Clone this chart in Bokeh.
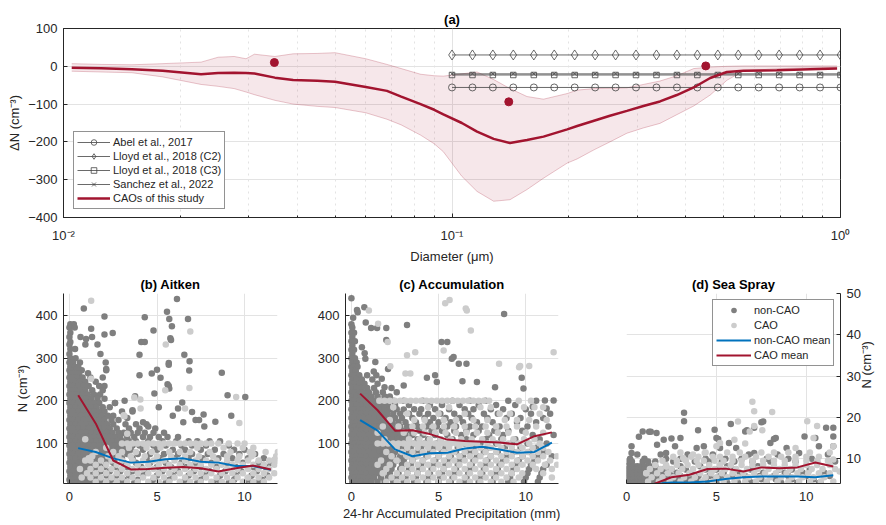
import math
from bokeh.plotting import figure
from bokeh.models import Range1d, FixedTicker, Legend, LegendItem, Label
from bokeh.layouts import column, row
from bokeh.embed import file_html
from bokeh.resources import INLINE

FONT = "Liberation Sans"
RED = "#A2142F"
BLUE = "#0072BD"
DARK = "#7F7F7F"
LIGHT = "#CCCCCC"
AX = "#262626"
GRID = "#E3E3E3"
LIT = "#444444"

# ---------------- panel (a) data ----------------
diam = [0.0105, 0.0125, 0.015, 0.018, 0.0226, 0.025, 0.0275, 0.0295, 0.031, 0.035,
        0.039, 0.045, 0.05, 0.06, 0.068, 0.074, 0.083, 0.09, 0.095, 0.106,
        0.116, 0.128, 0.141, 0.156, 0.172, 0.198, 0.21, 0.232, 0.255, 0.282,
        0.311, 0.343, 0.379, 0.419, 0.462, 0.51, 0.563, 0.686, 0.836, 0.98]
dn_mean = [-4, -5, -8, -12, -21, -17.5, -17, -18, -19, -30,
           -36, -38, -41, -55, -65, -80, -100, -115, -127, -150,
           -173, -192, -203, -195, -186, -167, -158, -144, -131, -118,
           -105, -93, -76, -56, -31, -15, -12, -10.5, -8, -6]
dn_upper = [7, 5, 4, 7, 11, 24, 26, 20, 32, 26,
            33, 34, 36, 20, 5, -6, -21, -25, -26, -20,
            -15, -35, -59, -80, -87, -72, -63, -59, -58, -57,
            -48, -39, -25, -6, -2, 0, 1, 1, 1, 1]
dn_lower = [-13, -15, -17, -28, -48, -53, -59, -68, -75, -90,
            -100, -106, -109, -123, -140, -155, -182, -205, -226, -291,
            -331, -357, -353, -326, -296, -256, -245, -221, -200, -177,
            -163, -151, -128, -105, -76, -37, -12, -6.5, -4, -3]
dot_d = [0.0349, 0.140, 0.45]
dot_dn = [10, -94, 1]
lit_d = [0.1, 0.1129, 0.1274, 0.1438, 0.1624, 0.1833, 0.2069, 0.2336, 0.2637, 0.2976,
         0.336, 0.3793, 0.4281, 0.4833, 0.5456, 0.6158, 0.6952, 0.7848, 0.8859, 1.0]
abel_dn = [-56] * 20
lloyd_c2_dn = [30] * 20
lloyd_c3_dn = [-23] * 20
sanchez_dn = [-20] * 20

# ---------------- panels (b)-(d) means ----------------
bins = [0.5, 1.5, 2.5, 3.5, 4.5, 5.5, 6.5, 7.5, 8.5, 9.5, 10.5, 11.5]
ait_non = [89, 80, 65, 55, 57, 63, 65, 57, 55, 47, 47, 38]
ait_cao = [213, 147, 60, 39, 40, 43, 45, 42, 34, 42, 48, 39]
acc_non = [155, 130, 86, 70, 77, 78, 88, 92, 86, 78, 80, 102]
acc_cao = [217, 178, 130, 131, 122, 109, 106, 104, 102, 98, 117, 126]
bins_ss = [1.5, 2.5, 3.5, 4.5, 5.5, 6.5, 7.5, 8.5, 9.5, 10.5, 11.5]
ss_non = [3.85, 4.25, 4.25, 4.5, 5.1, 5.5, 5.7, 5.7, 5.7, 5.5, 6.0]
ss_cao = [3.85, 5.5, 6.1, 7.5, 7.6, 6.9, 7.9, 7.7, 7.9, 9.1, 8.1]

# ---------------- scatter samples (rows "y: x x x", extras "x,y") ----------------
ait_non_rows = """
380: 0.05 0.25
372: 0.0 0.3
360: 0.05
350: 0.0 0.63 1.29
345: 0.95
338: 0.05
332: 0.0 0.91 1.6
322: 0.32 0.05
310: 0.0 1.77
300: 0.05 0.35
290: 0.0 0.2 0.6 2.07
280: 0.05 0.3 0.5
272: 0.0 0.15 0.4 0.7 2.1
265: 0.05 0.3 0.55 1.06
255: 0.0 0.2 0.45 0.75 1.2 1.9
245: 0.05 0.35 0.6 0.9 1.5
235: 0.0 0.2 0.5 0.8 1.1 1.7 2.0
225: 0.05 0.3 0.6 0.9 1.3 1.9
215: 0.0 0.2 0.45 0.75 1.05 1.4 1.75
205: 0.05 0.35 0.65 0.95 1.25 1.6 2.0
195: 0.0 0.2 0.5 0.8 1.1 1.4 1.7 2.6
185: 0.05 0.35 0.65 0.95 1.25 1.55 1.9 2.3
175: 0.0 0.2 0.5 0.8 1.1 1.4 1.7 2.0 3.0 3.6
165: 0.05 0.35 0.65 0.95 1.25 1.55 1.85 2.2 2.5
155: 0.0 0.2 0.5 0.8 1.1 1.4 1.7 2.0 2.4 2.8
145: 0.05 0.35 0.65 0.95 1.25 1.55 1.85 2.15 2.5 3.2 3.8 4.4
135: 0.0 0.2 0.5 0.8 1.1 1.4 1.7 2.0 2.3 2.7 3.4 4.0 4.9
125: 0.05 0.35 0.65 0.95 1.25 1.55 1.85 2.15 2.45 2.8 3.1 3.5 3.9 4.3 4.8 5.4
115: 0.0 0.2 0.5 0.8 1.1 1.4 1.7 2.0 2.3 2.6 2.9 3.3 3.7 4.2 4.6 5.1 5.6 6.2
105: 0.05 0.35 0.65 0.95 1.25 1.55 1.85 2.15 2.45 2.75 3.05 3.4 3.8 4.5 5.3 6.1 6.8 7.3 8.0 8.6
95: 0.0 0.2 0.5 0.8 1.1 1.4 1.7 2.0 2.3 2.6 2.9 3.2 3.6 4.0 4.8 5.5 6.4 7.0 7.8 9.1
85: 0.05 0.35 0.65 0.95 1.25 1.55 1.85 2.15 2.45 2.75 3.1 3.5 4.2 5.0 5.9 6.6 7.5 8.3 9.4 10.0
75: 0.0 0.2 0.5 0.8 1.1 1.4 1.7 2.0 2.3 2.7 3.3 3.9 4.6 5.4 6.2 7.0 7.9 8.8 9.7 10.6
65: 0.05 0.35 0.65 0.95 1.25 1.55 1.85 2.2 2.6 3.0 3.6 4.4 5.2 6.0 6.8 7.6 8.5 9.3 10.2 11.1
55: 0.0 0.2 0.5 0.8 1.1 1.4 1.7 2.1 2.5 3.1 3.8 4.6 5.5 6.4 7.2 8.1 9.0 9.9 10.8 11.5
45: 0.05 0.35 0.65 0.95 1.25 1.6 2.0 2.6 3.3 4.1 5.0 5.8 6.7 7.5 8.4 9.5 10.5 11.2
35: 0.0 0.2 0.5 0.8 1.1 1.4 1.8 2.3 2.9 3.6 4.4 5.3 6.2 7.1 8.0 8.9 9.8 10.7
25: 0.05 0.35 0.65 0.95 1.25 1.6 2.1 2.7 3.4 4.2 5.0 5.9 6.8 7.7 8.6 9.5 10.4 11.3
15: 0.0 0.2 0.5 0.8 1.1 1.4 1.8 2.4 3.1 3.9 4.8 5.7 6.6 7.5 8.5 9.4 10.3 11.0
8: 0.05 0.35 0.65 0.95 1.3 1.7 2.2 2.9 3.7 4.6 5.5 6.4 7.3 8.2 9.1 10.0 10.8
"""
ait_non_extra = """0.82,417 2.0,398 2.47,359 1.24,369 2.0,356 2.1,275 2.6,195 3.15,200 3.75,211 3.6,178
4.0,308 4.0,260 4.1,338 4.3,338 4.3,396 4.8,365 4.7,264 5.0,273 4.85,217 5.57,409 5.7,392
5.85,375 5.76,347 5.8,343 5.67,289 5.67,285 5.6,239 5.67,235 5.7,229 6.14,439 6.77,392
6.56,308 6.86,293 6.84,271 5.2,254 6.44,196 7.0,174 7.2,155 7.4,155 7.66,168 8.7,266
9.03,213 10.04,209 9.24,165 8.33,151 6.2,182 5.1,185 4.5,140 5.9,165 6.5,150 7.7,140
3.3,160 4.2,150"""

ait_cao_rows = """
100: 3.0 3.3 3.6 3.9 4.2 4.5 4.8 5.1 5.4 5.7 6.0 6.3 6.6 6.9 7.2 7.5 7.8 8.1 8.5 9.1 9.6 10.0
90: 2.1 3.4 4.4 5.2 7.3 8.8 9.9 10.5
80: 1.5 2.5 3.0 3.8 4.7 5.7 6.3 6.9 8.0 9.2 10.3 11.2 11.9
70: 1.3 2.2 2.8 3.5 4.3 5.0 5.8 6.6 7.4 8.2 9.0 9.7 10.4 11.8
60: 0.9 1.2 1.8 2.4 3.0 3.6 4.2 4.8 5.4 6.0 6.6 7.2 7.8 8.4 9.0 9.6 10.2 10.8 11.4 11.9
50: 1.5 2.1 2.7 3.3 3.9 4.5 5.1 5.7 6.3 6.9 7.5 8.1 8.7 9.3 9.9 10.5 11.1 11.7
40: 0.6 1.2 1.8 2.4 3.0 3.6 4.2 4.8 5.4 6.0 6.6 7.2 7.8 8.4 9.0 9.6 10.2 10.8 11.4
30: 1.0 1.5 2.1 2.7 3.3 3.9 4.5 5.1 5.7 6.3 6.9 7.5 8.1 8.7 9.3 9.9 10.5 11.1 11.7
20: 0.7 1.2 1.8 2.4 3.0 3.6 4.2 4.8 5.4 6.0 6.6 7.2 7.8 8.4 9.0 9.6 10.2 10.8 11.4
10: 1.5 2.1 2.7 3.3 3.9 4.5 5.1 5.7 6.3 6.9 7.5 8.1 8.7 9.3 9.9 10.5 11.1
"""
ait_cao_extra = """1.24,435 5.5,332 6.9,363 6.85,230 5.47,225 9.52,209 9.7,148 4.05,203 3.14,164
6.6,182 3.3,123 1.1,65 1.24,252 3.7,208 4.06,182 3.1,166 10.5,75 11.7,62 0.9,110"""

acc_non_rows = """
360: 0.0 0.15
350: 0.05
340: 0.0 0.2
330: 0.05
320: 0.0 0.15
310: 0.05
300: 0.0 0.2
290: 0.05 0.3
280: 0.0 0.15 0.35
270: 0.05 0.25
260: 0.0 0.2 0.45 0.9
250: 0.05 0.3 0.6 1.2
240: 0.0 0.2 0.45 0.75 1.5
230: 0.05 0.3 0.55 0.9 1.3 2.3
220: 0.0 0.2 0.45 0.7 1.0 1.4 1.8 2.6
210: 0.05 0.3 0.55 0.85 1.15 1.5 1.9 2.2
200: 0.0 0.2 0.45 0.7 1.0 1.3 1.6 2.0 2.4 3.0 4.1 5.8 6.8 7.7 9.0 10.6
190: 0.05 0.3 0.55 0.85 1.15 1.45 1.75 2.1 2.5 3.3 4.5 5.2 6.2 7.3 8.3 9.4
180: 0.0 0.2 0.45 0.7 1.0 1.3 1.6 1.9 2.2 2.6 3.0 3.6 4.0 4.8 5.6 6.5 7.0 8.0 8.7 10.0
170: 0.05 0.3 0.55 0.85 1.15 1.45 1.75 2.05 2.4 2.8 3.3 3.9 4.4 5.1 5.9 6.7 7.6 8.4 9.2 10.3 11.4
160: 0.0 0.2 0.45 0.7 1.0 1.3 1.6 1.9 2.2 2.5 2.9 3.5 4.2 4.7 5.4 6.2 6.9 7.8 8.9 9.7 11.0
150: 0.05 0.3 0.55 0.85 1.15 1.45 1.75 2.05 2.35 2.7 3.1 3.7 4.5 5.0 5.7 6.4 7.2 8.1 9.5 10.6
140: 0.0 0.2 0.45 0.7 1.0 1.3 1.6 1.9 2.2 2.5 2.8 3.2 3.8 4.3 4.9 5.5 6.0 6.8 7.5 8.5 10.1 11.3
130: 0.05 0.3 0.55 0.85 1.15 1.45 1.75 2.05 2.35 2.65 3.0 3.4 3.9 4.6 5.2 5.9 6.6 7.3 8.2 9.0 9.8
120: 0.0 0.2 0.45 0.7 1.0 1.3 1.6 1.9 2.2 2.5 2.8 3.1 3.5 4.1 4.8 5.5 6.3 7.0 7.9 8.7 10.4 11.6
110: 0.05 0.3 0.55 0.85 1.15 1.45 1.75 2.05 2.35 2.65 2.95 3.3 3.8 4.4 5.1 5.8 6.6 7.7 8.6 9.4 10.8
100: 0.0 0.2 0.45 0.7 1.0 1.3 1.6 1.9 2.2 2.5 2.8 3.1 3.6 4.2 4.9 5.6 6.5 7.4 8.3 9.2 10.1 11.2
90: 0.05 0.3 0.55 0.85 1.15 1.45 1.75 2.05 2.35 2.7 3.0 3.4 4.0 4.7 5.4 6.1 7.0 7.8 8.8 9.7 10.6
80: 0.0 0.2 0.45 0.7 1.0 1.3 1.6 1.9 2.2 2.5 2.9 3.3 3.8 4.5 5.2 6.0 6.8 7.6 8.4 9.3 10.2 11.0
70: 0.05 0.3 0.55 0.85 1.15 1.45 1.75 2.05 2.4 2.8 3.2 3.7 4.3 5.0 5.7 6.4 7.2 8.0 8.9 9.8 10.7 11.5
60: 0.0 0.2 0.45 0.7 1.0 1.3 1.6 1.9 2.2 2.6 3.0 3.5 4.1 4.8 5.5 6.2 7.0 7.8 8.7 9.6 10.5
50: 0.05 0.3 0.55 0.85 1.15 1.45 1.75 2.05 2.4 2.9 3.4 4.0 4.7 5.4 6.1 6.9 7.7 8.5 9.4 10.3 11.2
40: 0.0 0.2 0.45 0.7 1.0 1.3 1.6 1.9 2.3 2.8 3.3 3.9 4.6 5.3 6.0 6.8 7.6 8.4 9.3 10.2 11.0
30: 0.05 0.3 0.55 0.85 1.15 1.45 1.8 2.2 2.7 3.2 3.8 4.5 5.2 5.9 6.7 7.5 8.3 9.2 10.1 10.9
20: 0.0 0.2 0.45 0.7 1.0 1.3 1.7 2.1 2.6 3.1 3.7 4.4 5.1 5.8 6.6 7.4 8.2 9.1 10.0 10.8
10: 0.05 0.3 0.55 0.85 1.15 1.5 1.9 2.4 3.0 3.6 4.3 5.0 5.7 6.5 7.3 8.1 9.0 9.9 10.7
"""
acc_non_extra = """0.0,441 0.32,413 0.36,408 0.74,420 0.82,384 1.13,371 1.47,371 2.0,371 2.0,343 3.19,378
8.76,404 5.17,338 5.5,338 5.86,303 5.76,299 6.16,287 6.6,287 4.33,254 4.8,260 4.9,244
9.77,254 6.37,246 3.0,236 7.2,244 0.6,326 0.76,312 0.8,299 1.37,291 2.1,275 1.28,269
1.43,260 1.74,252 1.9,232 11.2,182 11.6,201 11.1,201 10.4,186 8.24,232 9.87,229 0.0,380
0.05,372 0.1,395"""

acc_cao_rows = """
200: 1.6 1.9 2.2 2.5 2.8 3.1 3.4 3.7 4.0 4.3 4.6 4.9 5.2 5.5 5.8 6.1 6.4 6.7 7.0 7.3 7.6 7.9 9.6 10.3
185: 2.4 4.4 5.6 7.4 8.0 9.9 10.5 11.0
170: 3.2 5.0 6.5 8.5 9.1 10.8
155: 2.2 3.6 4.2 5.3 6.0 7.0 7.8 8.8 9.5 10.2 11.2
140: 1.8 2.7 3.5 4.1 4.7 5.3 5.9 6.5 7.1 7.7 8.3 8.9 9.5 10.6
125: 1.5 3.0 3.6 4.2 4.8 5.4 6.0 6.6 7.2 7.8 8.4 9.0 10.0 11.0
110: 1.9 3.3 3.9 4.5 5.1 5.7 6.3 6.9 7.5 8.1 8.7 9.3 9.9 10.5
100: 1.5 1.8 2.1 2.4 2.7 3.0 3.3 3.6 3.9 4.2 4.5 4.8 5.1 5.4 5.7 6.0 6.3 6.6 6.9 7.2 7.8 8.4 9.0 9.6 10.2 10.8
90: 2.6 3.2 3.8 4.4 5.0 5.6 6.2 6.8 7.4 8.0 8.6 9.2 9.8 10.4 11.0
80: 2.0 2.9 3.5 4.1 4.7 5.3 5.9 6.5 7.1 7.7 8.3 8.9 9.5 10.1 10.7 11.3
70: 2.3 3.2 3.8 4.4 5.0 5.6 6.2 6.8 7.4 8.0 8.6 9.2 9.8 10.4 11.0 11.8
60: 1.7 2.6 3.5 4.1 4.7 5.3 5.9 6.5 7.1 7.7 8.3 8.9 9.5 10.1 10.7 11.4
50: 1.5 2.2 3.2 3.8 4.4 5.0 5.6 6.2 6.8 7.4 8.0 8.6 9.2 9.8 10.4 11.1 11.8
40: 2.0 2.9 3.5 4.1 4.7 5.3 5.9 6.5 7.1 7.7 8.3 8.9 9.5 10.6 11.5
30: 1.8 2.6 3.2 3.8 4.4 5.0 5.6 6.2 6.8 7.4 8.0 8.6 9.2 9.8 11.0
20: 2.3 2.9 3.5 4.1 4.7 5.3 5.9 6.5 7.1 7.7 8.3 8.9 9.6 11.5
10: 2.0 2.6 3.2 3.8 4.4 5.0 5.6 6.2 6.8 7.4 8.0 8.6 9.3
"""
acc_cao_extra = """1.0,412 1.53,381 2.08,338 3.19,307 3.66,314 3.1,264 3.38,264 5.38,429 5.63,437
6.56,417 6.62,412 6.85,365 5.29,318 8.47,287 9.62,279 9.68,282 10.2,282 11.6,314 2.23,281"""

ss_non_rows = """
11: 0.6 1.9 3.4 4.8 6.8 8.4 11.2
10: 0.2 1.0 2.2 3.0 4.4 5.5 6.4 7.8 9.0 10.3
9.3: 0.0 0.3 0.9 1.2 1.6 2.6 3.8 4.6 5.3 6.0 7.0 8.0 9.4 10.6 11.6
8.2: 0.0 0.2 0.4 0.6 0.8 1.0 1.3 1.6 2.2 3.0 4.1 5.6 7.3
7.4: 0.0 0.2 0.4 0.6 0.8 1.0 1.2 1.4 1.7 2.0 2.5 3.3 4.4 5.0 6.0 6.9 8.5 9.2 10.2
6.6: 0.0 0.2 0.4 0.6 0.8 1.0 1.2 1.4 1.6 1.9 2.3 2.8 3.6 4.7 5.4 6.3 7.6 8.8 9.8 11.0
5.8: 0.0 0.2 0.4 0.6 0.8 1.0 1.2 1.4 1.6 1.8 2.1 2.5 3.0 3.5 4.0 4.6 5.2 5.9 6.6 7.4 8.2 9.0 10.0 11.3
5.0: 0.0 0.2 0.4 0.6 0.8 1.0 1.2 1.4 1.6 1.8 2.0 2.3 2.7 3.1 3.5 3.9 4.4 4.9 5.5 6.1 6.8 7.5 8.3 9.2 10.4
4.2: 0.0 0.2 0.4 0.6 0.8 1.0 1.2 1.4 1.6 1.8 2.0 2.2 2.5 2.9 3.3 3.7 4.1 4.5 5.0 5.6 6.2 7.0 7.8 8.6 9.5 10.8
"""
ss_non_extra = """3.2,21.1 3.2,19.1 0.28,13 0.9,16.6 1.26,16.5 1.35,16.5 0.69,15.3 1.67,16.2 2.07,14.6
2.5,14.9 2.7,13 3.0,15 3.98,16.9 4.9,17.0 5.0,15 5.1,14.8 5.8,18.4 6.6,16.6 6.7,16.9
7.1,17.5 7.5,18.8 7.6,19 8.0,13.8 8.2,14.8 8.3,15 9.9,15.4 10.5,15 11.1,17.5 11.5,17.5
11.5,15.4 11.5,13 0.28,11.4 2.2,11.4 1.7,13.4 3.9,12.6 4.3,13 5.2,12.6 5.7,13.8 6.1,12.6
7.1,11.4 8.9,12.6 9.6,11.4 10.7,13 10.9,6.5 10.7,4.1"""

ss_cao_rows = """
11.5: 3.0 4.4 5.6 6.3 7.5 8.2 9.0 10.2 11.3
10.5: 2.6 3.6 4.0 4.8 5.2 5.9 6.6 7.2 7.9 8.6 9.4 10.0 10.7
9.5: 2.0 2.8 3.3 3.9 4.3 4.9 5.4 5.9 6.4 7.0 7.6 8.2 8.8 9.4 10.0 10.6 11.2
8.5: 1.6 2.2 2.8 3.4 4.0 4.6 5.2 5.8 6.4 7.0 7.6 8.2 8.8 9.4 10.0 10.6 11.3
7.5: 1.3 1.9 2.5 3.1 3.7 4.3 4.9 5.5 6.1 6.7 7.3 7.9 8.5 9.1 9.7 10.3 10.9 11.6
6.5: 1.1 1.7 2.3 2.9 3.5 4.1 4.7 5.3 5.9 6.5 7.1 7.7 8.3 8.9 9.5 10.1 10.7 11.3
5.5: 1.4 2.0 2.6 3.2 3.8 4.4 5.0 5.6 6.2 6.8 7.4 8.0 8.6 9.2 9.8 10.4 11.0
4.5: 1.2 1.8 2.4 3.0 3.6 4.2 4.8 5.4 6.0 6.6 7.2 7.8 8.4 9.0 9.6 10.2 10.8 11.5
"""
ss_cao_extra = """7.0,23.8 7.1,21.5 8.1,21.3 6.85,16.6 7.1,17.9 7.55,16.9 10.05,19.1 10.4,15 10.6,17.9
11.5,13 11.5,9.8 11.85,6.9 9.4,12.6 6.0,14.6 5.2,13.8 4.35,11.4 3.7,11 3.15,10.2 2.2,8.1
1.1,6.5 6.2,19.0 5.0,13.0 6.6,13.7"""

MS = 6.5


def parse(rows, extra):
    xs, ys = [], []
    for line in rows.strip().splitlines():
        yv, rest = line.split(":")
        for xv in rest.split():
            xs.append(float(xv))
            ys.append(float(yv))
    for tok in extra.split():
        a, b = tok.split(",")
        xs.append(float(a))
        ys.append(float(b))
    return xs, ys


def style_axis(ax, size="13px"):
    ax.axis_line_color = AX
    ax.major_tick_line_color = AX
    ax.minor_tick_line_color = AX
    ax.major_tick_in = 4
    ax.major_tick_out = 0
    ax.minor_tick_in = 2
    ax.minor_tick_out = 0
    ax.major_label_text_color = AX
    ax.major_label_text_font = FONT
    ax.major_label_text_font_size = size
    ax.axis_label_text_font = FONT
    ax.axis_label_text_font_size = "13px"
    ax.axis_label_text_font_style = "normal"
    ax.axis_label_text_color = AX


def style_title(p, text):
    p.title.text = text
    p.title.align = "center"
    p.title.text_font = FONT
    p.title.text_font_size = "13px"
    p.title.text_font_style = "bold"
    p.title.text_color = "#000000"
    p.title.standoff = 3


def style_legend(lg):
    lg.label_text_font = FONT
    lg.label_text_font_size = "11px"
    lg.label_text_color = AX
    lg.border_line_color = AX
    lg.border_line_width = 0.8
    lg.background_fill_color = "white"
    lg.background_fill_alpha = 1.0
    lg.padding = 3
    lg.spacing = 1
    lg.label_height = 14
    lg.glyph_height = 14
    lg.label_standoff = 3
    lg.margin = 0


# ---------------- panel (a) ----------------
pa = figure(width=886, height=266, x_axis_type="log",
            x_range=Range1d(0.01, 1), y_range=Range1d(-400, 100),
            output_backend="svg", toolbar_location=None,
            min_border_left=63, min_border_right=46, min_border_top=28, min_border_bottom=48)
style_title(pa, "(a)")
pa.title.standoff = 4
pa.outline_line_color = AX
pa.outline_line_width = 1
pa.outline_line_alpha = 1
style_axis(pa.xaxis[0])
style_axis(pa.yaxis[0])
pa.xaxis.ticker = FixedTicker(ticks=[0.01, 0.1, 1],
                              minor_ticks=[0.02, 0.03, 0.04, 0.05, 0.06, 0.07, 0.08, 0.09,
                                           0.2, 0.3, 0.4, 0.5, 0.6, 0.7, 0.8, 0.9])
pa.xaxis.major_label_overrides = {0.01: "10⁻²", 0.1: "10⁻¹", 1: "10⁰"}
pa.yaxis.ticker = FixedTicker(ticks=[-400, -300, -200, -100, 0, 100])
pa.xaxis.axis_label = "Diameter (μm)"
pa.yaxis.axis_label = "ΔN (cm⁻³)"
pa.xaxis.major_label_standoff = 10
pa.xaxis.axis_label_standoff = 3
pa.yaxis.major_label_standoff = 6
pa.yaxis.axis_label_standoff = 3
pa.xgrid.grid_line_color = GRID
pa.xgrid.minor_grid_line_color = GRID
pa.xgrid.minor_grid_line_dash = "dotted"
pa.ygrid.grid_line_color = GRID

pa.varea(x=diam, y1=dn_lower, y2=dn_upper, fill_color=RED, fill_alpha=0.1)
pa.line(diam, dn_upper, line_color=RED, line_alpha=0.3, line_width=0.8)
pa.line(diam, dn_lower, line_color=RED, line_alpha=0.3, line_width=0.8)

r_ab_l = pa.line(lit_d, abel_dn, line_color=LIT, line_width=0.8)
r_ab_m = pa.scatter(lit_d, abel_dn, marker="circle", size=7, fill_color=None, line_color=LIT, line_width=0.8)
r_c2_l = pa.line(lit_d, lloyd_c2_dn, line_color=LIT, line_width=0.8)
r_c2_m = pa.scatter(lit_d, lloyd_c2_dn, marker="diamond", size=10, fill_color=None, line_color=LIT, line_width=0.8)
r_c3_l = pa.line(lit_d, lloyd_c3_dn, line_color=LIT, line_width=0.8)
r_c3_m = pa.scatter(lit_d, lloyd_c3_dn, marker="square", size=5.5, fill_color=None, line_color=LIT, line_width=0.8)
r_sa_l = pa.line(lit_d, sanchez_dn, line_color=LIT, line_width=0.8)
r_sa_m = pa.scatter(lit_d, sanchez_dn, marker="x", size=5, line_color=LIT, line_width=0.8)
r_main = pa.line(diam, dn_mean, line_color=RED, line_width=2.5)
pa.scatter(dot_d, dot_dn, marker="circle", size=8, fill_color=RED, line_color=RED)

leg_a = Legend(items=[
    LegendItem(label="Abel et al., 2017", renderers=[r_ab_l, r_ab_m]),
    LegendItem(label="Lloyd et al., 2018 (C2)", renderers=[r_c2_l, r_c2_m]),
    LegendItem(label="Lloyd et al., 2018 (C3)", renderers=[r_c3_l, r_c3_m]),
    LegendItem(label="Sanchez et al., 2022", renderers=[r_sa_l, r_sa_m]),
    LegendItem(label="CAOs of this study", renderers=[r_main]),
], location=(10, 8))
style_legend(leg_a)
leg_a.spacing = 0
leg_a.glyph_width = 33
pa.add_layout(leg_a)


# ---------------- panels (b)-(d) ----------------
def bottom_fig(title, xr, yr, width, left, right, yloc="left"):
    p = figure(width=width, height=258, x_range=Range1d(*xr), y_range=Range1d(*yr),
               output_backend="svg", toolbar_location=None, y_axis_location=yloc,
               min_border_left=left, min_border_right=right, min_border_top=27, min_border_bottom=41)
    style_title(p, title)
    p.outline_line_color = None
    style_axis(p.xaxis[0])
    style_axis(p.yaxis[0])
    p.xaxis.ticker = FixedTicker(ticks=[0, 5, 10])
    p.xaxis.major_label_standoff = 8
    p.xaxis.axis_label_standoff = 2
    p.yaxis.major_label_standoff = 6
    p.yaxis.axis_label_standoff = 3
    p.xgrid.grid_line_color = GRID
    p.ygrid.grid_line_color = GRID
    return p


pb = bottom_fig("(b) Aitken", (-0.34, 11.88), (6, 452), 298, 63, 21)
pb.yaxis.ticker = FixedTicker(ticks=[100, 200, 300, 400])
pb.yaxis.axis_label = "N (cm⁻³)"
x, y = parse(ait_non_rows, ait_non_extra)
pb.scatter(x, y, size=MS, fill_color=DARK, line_color=None)
x, y = parse(ait_cao_rows, ait_cao_extra)
pb.scatter(x, y, size=MS, fill_color=LIGHT, line_color=None)
pb.line(bins, ait_non, line_color=BLUE, line_width=2)
pb.line(bins, ait_cao, line_color=RED, line_width=2)

pc = bottom_fig("(c) Accumulation", (-0.34, 11.88), (6, 452), 290, 47, 30)
pc.yaxis.ticker = FixedTicker(ticks=[100, 200, 300, 400])
pc.xaxis.axis_label = "24-hr Accumulated Precipitation (mm)"
x, y = parse(acc_non_rows, acc_non_extra)
pc.scatter(x, y, size=MS, fill_color=DARK, line_color=None)
x, y = parse(acc_cao_rows, acc_cao_extra)
pc.scatter(x, y, size=MS, fill_color=LIGHT, line_color=None)
pc.line(bins, acc_non, line_color=BLUE, line_width=2)
pc.line(bins, acc_cao, line_color=RED, line_width=2)

pd_ = bottom_fig("(d) Sea Spray", (0, 11.9), (4, 50), 298, 38, 46, yloc="right")
pd_.yaxis.ticker = FixedTicker(ticks=[10, 20, 30, 40, 50])
if "axis_label_orientation" in pd_.yaxis[0].properties():
    pd_.yaxis[0].axis_label = "N (cm⁻³)"
    pd_.yaxis[0].axis_label_orientation = math.pi / 2
else:
    pd_.yaxis[0].axis_label = "N (cm⁻³)"
x, y = parse(ss_non_rows, ss_non_extra)
r_dn = pd_.scatter(x, y, size=MS, fill_color=DARK, line_color=None)
x, y = parse(ss_cao_rows, ss_cao_extra)
r_dc = pd_.scatter(x, y, size=MS, fill_color=LIGHT, line_color=None)
r_bl = pd_.line(bins_ss, ss_non, line_color=BLUE, line_width=2)
r_rl = pd_.line(bins_ss, ss_cao, line_color=RED, line_width=2)
leg_d = Legend(items=[
    LegendItem(label="non-CAO", renderers=[r_dn]),
    LegendItem(label="CAO", renderers=[r_dc]),
    LegendItem(label="non-CAO mean", renderers=[r_bl]),
    LegendItem(label="CAO mean", renderers=[r_rl]),
], location=(86, 117))
style_legend(leg_d)
leg_d.glyph_width = 35
pd_.add_layout(leg_d)

layout = column(pa, row(pb, pc, pd_))
open("out.html", "w").write(file_html(layout, INLINE))
